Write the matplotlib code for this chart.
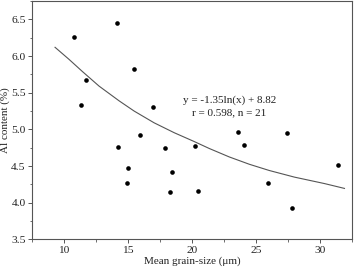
import matplotlib
matplotlib.use("Agg")
import matplotlib.pyplot as plt
from matplotlib.ticker import MultipleLocator, FormatStrFormatter

# ----------------------------- Data -----------------------------
# Mean grain-size (um) vs Al content (%)
grain_size = [10.76, 14.12, 11.75, 11.30, 15.45, 16.94, 15.95, 14.25, 17.90,
              14.98, 14.90, 18.47, 18.29, 20.25, 20.48, 23.59, 24.06, 25.91,
              27.44, 27.81, 31.43]
al_content = [6.255, 6.445, 5.673, 5.332, 5.818, 5.309, 4.918, 4.759, 4.745,
              4.468, 4.273, 4.418, 4.141, 4.777, 4.164, 4.964, 4.782, 4.264,
              4.950, 3.932, 4.514]

# trend curve
curve_x = [9.30, 10.39, 11.43, 12.74, 14.30, 15.48, 17.04, 18.61, 20.17, 21.35,
           22.91, 24.48, 26.04, 28.00, 30.35, 31.91]
curve_y = [6.119, 5.955, 5.790, 5.590, 5.390, 5.250, 5.090, 4.955, 4.835, 4.740,
           4.625, 4.525, 4.440, 4.350, 4.262, 4.196]

eq_text = "y = -1.35ln(x) + 8.82"
stat_text = "r = 0.598, n = 21"

# ----------------------------- Plot -----------------------------
plt.rcParams["font.family"] = ["Liberation Serif", "DejaVu Serif"]
plt.rcParams["font.size"] = 8

fig = plt.figure(figsize=(3.54, 2.69), dpi=100)
ax = fig.add_axes([0.0904, 0.1097, 0.904, 0.8866])

ax.plot(curve_x, curve_y, color="#555555", lw=0.8)
ax.scatter(grain_size, al_content, s=11, color="black", zorder=3, linewidths=0)

ax.text(22.9, 5.40, eq_text, ha="center", va="center", color="#222222")
ax.text(22.9, 5.22, stat_text, ha="center", va="center", color="#222222")

ax.set_xlim(7.5, 32.5)
ax.set_ylim(3.5, 6.75)
ax.xaxis.set_major_locator(MultipleLocator(5))
ax.xaxis.set_minor_locator(MultipleLocator(2.5))
ax.yaxis.set_major_locator(MultipleLocator(0.5))
ax.yaxis.set_minor_locator(MultipleLocator(0.25))
ax.yaxis.set_major_formatter(FormatStrFormatter("%.1f"))

for s in ax.spines.values():
    s.set_color("#555555")
    s.set_linewidth(0.8)
ax.tick_params(which="major", direction="out", length=3, width=0.7, color="#555555",
               pad=1.5, labelsize=8.2, labelcolor="#222222")
ax.tick_params(which="minor", direction="out", length=1.8, width=0.6, color="#555555")

ax.set_xlabel("Mean grain-size (\u03bcm)", color="#222222")
ax.set_ylabel("Al content (%)", color="#222222")
ax.xaxis.set_label_coords(0.5, -0.072)
ax.yaxis.set_label_coords(-0.07, 0.5)

fig.savefig("out.png", dpi=100)
